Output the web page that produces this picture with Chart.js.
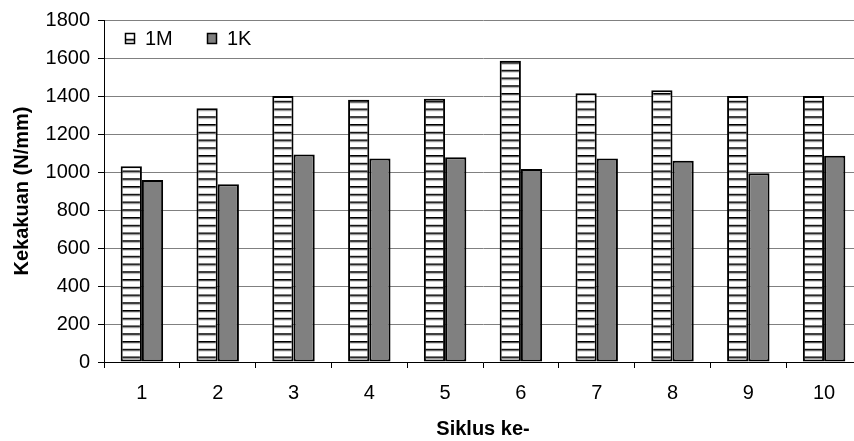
<!DOCTYPE html>
<html>
<head>
<meta charset="utf-8">
<script src="https://cdn.jsdelivr.net/npm/chart.js@4/dist/chart.umd.min.js"></script>
<style>
  html, body { margin: 0; padding: 0; background: #fff; overflow: hidden; }
  #wrap { position: absolute; left: 0; top: 0; width: 862px; height: 441px; }
</style>
</head>
<body>
<div id="wrap"><canvas id="c" width="862" height="441"></canvas></div>
<script>
// Stiffness per loading cycle for specimens 1M and 1K
const cycles = ['1', '2', '3', '4', '5', '6', '7', '8', '9', '10'];
const stiffness1M = [1030, 1335, 1400, 1380, 1385, 1585, 1415, 1430, 1400, 1400];
const stiffness1K = [958, 935, 1092, 1071, 1078, 1016, 1071, 1059, 993, 1085];
const seriesNames = ['1M', '1K'];
const yMin = 0, yMax = 1800, yStep = 200;

const FONT = '"Liberation Sans", Arial, sans-serif';

// Horizontal stripe fill for the 1M bars
function stripePattern() {
  const p = document.createElement('canvas');
  p.width = 8; p.height = 8;
  const g = p.getContext('2d');
  g.fillStyle = '#ffffff';
  g.fillRect(0, 0, 8, 8);
  g.fillStyle = '#000000';
  g.fillRect(0, 0, 8, 1);
  g.fillStyle = '#555555';
  g.fillRect(0, 1, 8, 1);
  g.fillStyle = '#d0d0d0';
  g.fillRect(0, 2, 8, 1);
  const ctx = document.getElementById('c').getContext('2d');
  const pat = ctx.createPattern(p, 'repeat');
  pat.setTransform(new DOMMatrix().scale(1, 7.75 / 8));
  return pat;
}
const stripes = stripePattern();

// Legend drawn inside the plot area, top-left
const innerLegend = {
  id: 'innerLegend',
  afterDraw(chart) {
    const ctx = chart.ctx;
    const pos = [{ box: 125, text: 145 }, { box: 207, text: 227 }];
    ctx.save();
    ctx.font = '20px ' + FONT;
    ctx.textBaseline = 'middle';
    ctx.textAlign = 'left';
    chart.data.datasets.forEach((ds, i) => {
      const x = pos[i].box, y = 33;
      ctx.fillStyle = ds.backgroundColor;
      ctx.fillRect(x, y, 10, 11);
      ctx.lineWidth = 1.5;
      ctx.strokeStyle = '#000';
      ctx.strokeRect(x + 0.5, y + 0.5, 9, 10);
      ctx.fillStyle = '#000';
      ctx.fillText(ds.label, pos[i].text, 39.5);
    });
    ctx.restore();
  }
};

new Chart(document.getElementById('c'), {
  type: 'bar',
  data: {
    labels: cycles,
    datasets: [
      {
        label: seriesNames[0],
        data: stiffness1M,
        backgroundColor: stripes,
        borderColor: '#000',
        borderWidth: 2,
        borderSkipped: false
      },
      {
        label: seriesNames[1],
        data: stiffness1K,
        backgroundColor: '#808080',
        borderColor: '#000',
        borderWidth: 2,
        borderSkipped: false
      }
    ]
  },
  options: {
    responsive: false,
    animation: false,
    devicePixelRatio: 1,
    layout: { padding: { top: 17, right: 0, bottom: 0, left: 0 } },
    datasets: { bar: { barPercentage: 1.0, categoryPercentage: 0.56 } },
    plugins: {
      legend: { display: false },
      tooltip: { enabled: false }
    },
    scales: {
      x: {
        grid: {
          display: true,
          drawOnChartArea: false,
          drawTicks: true,
          tickLength: 6,
          tickColor: '#000',
          lineWidth: 1
        },
        border: { color: '#000', width: 1 },
        ticks: {
          color: '#000',
          font: { family: FONT, size: 20 },
          padding: 13,
          maxRotation: 0
        },
        title: {
          display: true,
          text: 'Siklus ke-',
          color: '#000',
          font: { family: FONT, size: 20, weight: 'bold' },
          padding: { top: 0, bottom: 0 }
        },
        afterFit(scale) { scale.height = 79; }
      },
      y: {
        min: yMin,
        max: yMax,
        grid: {
          color: '#808080',
          lineWidth: 1,
          drawTicks: true,
          tickLength: 6,
          tickColor: '#000'
        },
        border: { color: '#000', width: 1 },
        ticks: {
          stepSize: yStep,
          color: '#000',
          font: { family: FONT, size: 20 },
          padding: 8,
          callback: (v) => String(v)
        },
        title: {
          display: true,
          text: 'Kekakuan (N/mm)',
          color: '#000',
          font: { family: FONT, size: 20, weight: 'bold' },
          padding: { top: 10, bottom: 0 }
        },
        afterFit(scale) { scale.width = 104; }
      }
    }
  },
  plugins: [innerLegend]
});
</script>
</body>
</html>
